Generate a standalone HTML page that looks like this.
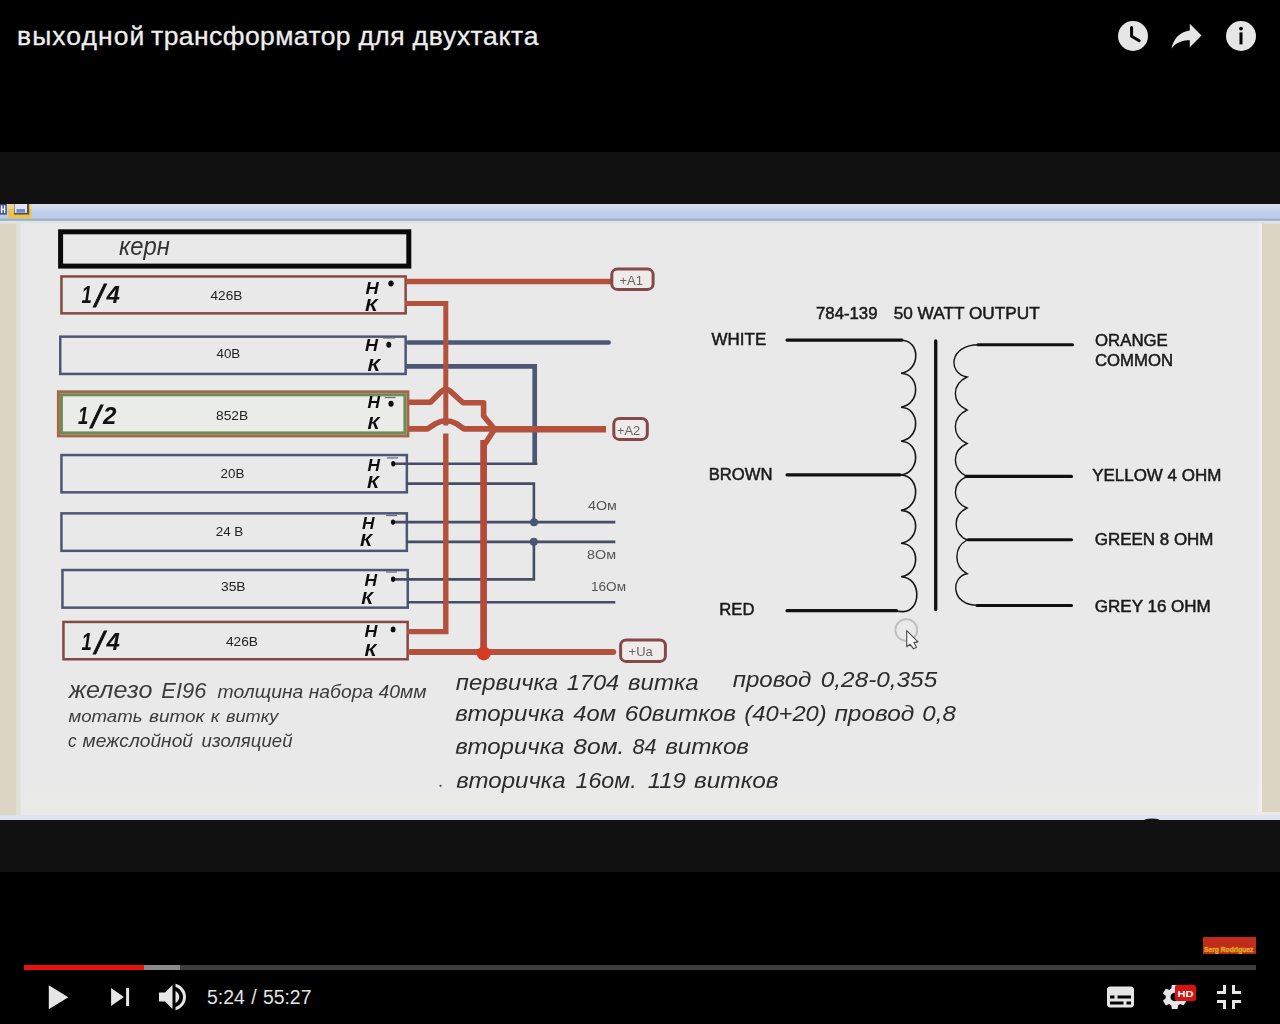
<!DOCTYPE html>
<html lang="ru">
<head>
<meta charset="utf-8">
<title>выходной трансформатор для двухтакта</title>
<style>
html,body{margin:0;padding:0;background:#000;}
body{width:1280px;height:1024px;position:relative;overflow:hidden;font-family:"Liberation Sans",sans-serif;}
.abs{position:absolute;}
#letter{left:0;top:152px;width:1280px;height:720px;background:#111112;}
#title{-webkit-text-stroke:0.3px #eee;left:17px;top:20px;font-size:26.5px;line-height:32px;color:#eee;white-space:nowrap;letter-spacing:0.48px;width:600px;height:32px;}
#title span{position:absolute;top:0;}
#time{left:207px;top:985px;font-size:19.4px;line-height:24px;color:#e4e4e4;white-space:nowrap;word-spacing:1px;}
#bar{left:24px;top:965px;width:1232px;height:5px;background:#3d3d3d;}
#bar .load{position:absolute;left:0;top:0;height:5px;width:156px;background:#8a8a8a;}
#bar .play{position:absolute;left:0;top:0;height:5px;width:120px;background:#e8120c;}
#brand{left:1203px;top:937px;width:53px;height:17px;background:#c22a1c;overflow:hidden;}
#brand span{position:absolute;left:1px;top:9px;font-size:6.6px;line-height:7px;font-weight:bold;color:#d9a520;-webkit-text-stroke:0.5px #d9a520;white-space:nowrap;letter-spacing:0.05px;}
svg{position:absolute;display:block;overflow:visible;}
</style>
</head>
<body>
<div id="letter" class="abs"></div>
<!--FRAME0-->
<div id="fw" class="abs" style="left:0;top:204px;width:1280px;height:616px;overflow:hidden">
<svg id="frame" style="left:-10px;top:-10px;filter:blur(0.65px)" width="1300" height="636" viewBox="-10 194 1300 636">
<defs>
<linearGradient id="gband" x1="0" y1="0" x2="0" y2="1"><stop offset="0" stop-color="#d9dce8"/><stop offset="0.2" stop-color="#d8dcec"/><stop offset="0.5" stop-color="#c2cfec"/><stop offset="0.9" stop-color="#baccea"/><stop offset="1" stop-color="#b0c0dc"/></linearGradient>
<linearGradient id="gbg" x1="0" y1="0" x2="0" y2="1"><stop offset="0" stop-color="#e9e9e9"/><stop offset="0.93" stop-color="#e9e9e9"/><stop offset="1" stop-color="#ecebe5"/></linearGradient>
</defs>
<rect x="-10" y="194" width="1300" height="636" fill="url(#gbg)"/>
<rect x="-10" y="221" width="26.5" height="594" fill="#dcd6c4"/>
<rect x="16.5" y="221" width="4" height="594" fill="#dfe0d8"/>
<rect x="1262" y="222" width="28" height="590" fill="#dbd5c3"/>
<rect x="1258" y="222" width="4" height="590" fill="#eeeeee"/>
<rect x="-10" y="194" width="1300" height="10" fill="#d9dce8"/>
<rect x="-10" y="204" width="1300" height="15" fill="url(#gband)"/>
<rect x="-10" y="218.9" width="1300" height="2" fill="#9eacbe"/>
<rect x="-10" y="220.9" width="1300" height="2.7" fill="#dce6e7"/>
<rect x="-10" y="815" width="1300" height="16" fill="#dde3f0"/>
<rect x="8" y="200" width="23.5" height="18.2" fill="#ecc24e"/>
<rect x="8" y="200" width="23.5" height="9" fill="#eed9a0" opacity="0.7"/>
<rect x="14" y="200" width="15.2" height="14.6" fill="#55554a"/>
<rect x="14.6" y="200" width="12.4" height="12.8" fill="#e6e2f4"/>
<rect x="16.5" y="209" width="8.5" height="3.6" fill="#6c8ec8"/>
<rect x="-10" y="200" width="16.8" height="14.6" fill="#3a4482"/>
<rect x="0.8" y="205.4" width="1.7" height="7.8" fill="#eef0fc"/><rect x="3.8" y="205.4" width="1.6" height="7.8" fill="#eef0fc"/><rect x="0.8" y="208.6" width="4" height="1.4" fill="#eef0fc"/>
<rect x="60.6" y="231.8" width="348.2" height="34.3" fill="none" stroke="#0a0a0a" stroke-width="5"/>
<rect x="61.45" y="276.45" width="344.20" height="36.90" fill="none" stroke="#864841" stroke-width="2.5"/>
<rect x="60.25" y="336.65" width="345.40" height="37.30" fill="none" stroke="#4e5675" stroke-width="2.5"/>
<rect x="58.40" y="391.80" width="349.50" height="44.10" fill="none" stroke="#a06a48" stroke-width="3"/>
<rect x="61.40" y="394.80" width="343.50" height="38.10" fill="#eaece8" stroke="#6f8a55" stroke-width="3"/>
<rect x="61.45" y="455.05" width="345.40" height="37.30" fill="none" stroke="#4e5675" stroke-width="2.5"/>
<rect x="61.45" y="513.35" width="345.40" height="37.50" fill="none" stroke="#4e5675" stroke-width="2.5"/>
<rect x="62.45" y="570.05" width="345.30" height="37.60" fill="none" stroke="#4e5675" stroke-width="2.5"/>
<rect x="63.45" y="621.95" width="344.20" height="37.30" fill="none" stroke="#864841" stroke-width="2.5"/>
<path d="M408.4 342.5 H608.6" fill="none" stroke="#4e5675" stroke-width="4.7" stroke-linecap="round"/>
<path d="M406 366.3 H534.7 V465" fill="none" stroke="#4e5675" stroke-width="4.7" stroke-linejoin="miter"/>
<path d="M393 463.8 H537.3" fill="none" stroke="#474d64" stroke-width="2.6" />
<path d="M406.5 483.6 H533.9 V522" fill="none" stroke="#474d64" stroke-width="2.6" />
<path d="M393 522.1 H615.3" fill="none" stroke="#474d64" stroke-width="2.6" />
<path d="M406.5 541.9 H615.3" fill="none" stroke="#474d64" stroke-width="2.6" />
<path d="M393 579.4 H533.9 V541.9" fill="none" stroke="#474d64" stroke-width="2.6" />
<path d="M407 602.2 H615.3" fill="none" stroke="#474d64" stroke-width="2.6" />
<circle cx="534" cy="522.2" r="4" fill="#4c5478"/><circle cx="533.8" cy="541.7" r="4" fill="#4c5478"/>
<path d="M406 281.4 H612" fill="none" stroke="#b3513c" stroke-width="5.5" />
<path d="M405 303.6 H445.8 V425.6" fill="none" stroke="#b3513c" stroke-width="5" stroke-linejoin="miter"/>
<path d="M445.8 433.5 V631.6 H407.5" fill="none" stroke="#b3513c" stroke-width="5.4" stroke-linejoin="miter"/>
<path d="M408.5 402.2 H430.5 L441.5 391.3 Q446 387.3 450.5 391.3 L463 402.8 H483.6 V416 L494.6 429.3 L483.6 446 V652" fill="none" stroke="#b3513c" stroke-width="5.6" stroke-linejoin="round"/>
<path d="M483.6 440 V652" fill="none" stroke="#b54a3a" stroke-width="6.6" />
<path d="M408.5 428.9 H427.5 L436 423.4 Q446 418.2 456 423.4 L464 428.9 H606" fill="none" stroke="#b3513c" stroke-width="5.6" stroke-linejoin="round"/>
<path d="M490 429.5 H606" fill="none" stroke="#b3513c" stroke-width="6.2" />
<path d="M410.6 652 H613.2" fill="none" stroke="#b3513c" stroke-width="6" stroke-linecap="round"/>
<circle cx="483.7" cy="653.4" r="7" fill="#d63c24"/>
<rect x="611.8" y="269.1" width="41.3" height="20.3" rx="5.5" fill="#efebe8" stroke="#85484a" stroke-width="3"/>
<text x="619.5" y="285.2" font-family="Liberation Sans, sans-serif" font-size="13.5" fill="#666" textLength="23.5" lengthAdjust="spacingAndGlyphs">+A1</text>
<rect x="613.8" y="418.4" width="33.5" height="21.0" rx="5.5" fill="#efebe8" stroke="#85484a" stroke-width="3"/>
<text x="617" y="434.8" font-family="Liberation Sans, sans-serif" font-size="13.5" fill="#666" textLength="23.3" lengthAdjust="spacingAndGlyphs">+A2</text>
<rect x="620.6" y="640.0" width="44.8" height="21.4" rx="5.5" fill="#efebe8" stroke="#85484a" stroke-width="3"/>
<text x="628.6" y="656.2" font-family="Liberation Sans, sans-serif" font-size="13.5" fill="#666" textLength="24.2" lengthAdjust="spacingAndGlyphs">+Ua</text>
<text x="588" y="509.8" font-family="Liberation Sans, sans-serif" font-size="13" fill="#555" textLength="28.9" lengthAdjust="spacingAndGlyphs">4Ом</text>
<text x="587" y="559.1" font-family="Liberation Sans, sans-serif" font-size="13" fill="#555" textLength="29.0" lengthAdjust="spacingAndGlyphs">8Ом</text>
<text x="591" y="591.1" font-family="Liberation Sans, sans-serif" font-size="13" fill="#555" textLength="35.0" lengthAdjust="spacingAndGlyphs">16Ом</text>
<text x="118.9" y="254.8" font-family="Liberation Sans, sans-serif" font-size="25" font-style="italic" fill="#333" textLength="50.9" lengthAdjust="spacingAndGlyphs">керн</text>
<text x="81.6" y="303.2" font-family="Liberation Sans, sans-serif" font-size="23" font-style="italic" font-weight="bold" fill="#111" textLength="10.3" lengthAdjust="spacingAndGlyphs">1</text>
<text x="95.0" y="307.1" font-family="Liberation Sans, sans-serif" font-size="32" font-style="italic" fill="#111" stroke="#111" stroke-width="0.9">/</text>
<text x="106.6" y="303.2" font-family="Liberation Sans, sans-serif" font-size="23" font-style="italic" font-weight="bold" fill="#111" textLength="13.4" lengthAdjust="spacingAndGlyphs">4</text>
<text x="78" y="423.8" font-family="Liberation Sans, sans-serif" font-size="23" font-style="italic" font-weight="bold" fill="#111" textLength="10.3" lengthAdjust="spacingAndGlyphs">1</text>
<text x="91.4" y="427.7" font-family="Liberation Sans, sans-serif" font-size="32" font-style="italic" fill="#111" stroke="#111" stroke-width="0.9">/</text>
<text x="103" y="423.8" font-family="Liberation Sans, sans-serif" font-size="23" font-style="italic" font-weight="bold" fill="#111" textLength="13.4" lengthAdjust="spacingAndGlyphs">2</text>
<text x="81.6" y="649.8" font-family="Liberation Sans, sans-serif" font-size="23" font-style="italic" font-weight="bold" fill="#111" textLength="10.3" lengthAdjust="spacingAndGlyphs">1</text>
<text x="95.0" y="653.7" font-family="Liberation Sans, sans-serif" font-size="32" font-style="italic" fill="#111" stroke="#111" stroke-width="0.9">/</text>
<text x="106.6" y="649.8" font-family="Liberation Sans, sans-serif" font-size="23" font-style="italic" font-weight="bold" fill="#111" textLength="13.4" lengthAdjust="spacingAndGlyphs">4</text>
<text x="210.5" y="300.1" font-family="Liberation Sans, sans-serif" font-size="13" fill="#222" textLength="31.8" lengthAdjust="spacingAndGlyphs">426В</text>
<text x="216.5" y="357.5" font-family="Liberation Sans, sans-serif" font-size="13" fill="#222" textLength="23.8" lengthAdjust="spacingAndGlyphs">40В</text>
<text x="216" y="419.8" font-family="Liberation Sans, sans-serif" font-size="13" fill="#222" textLength="32.2" lengthAdjust="spacingAndGlyphs">852В</text>
<text x="220.6" y="478.1" font-family="Liberation Sans, sans-serif" font-size="13" fill="#222" textLength="23.8" lengthAdjust="spacingAndGlyphs">20В</text>
<text x="215.7" y="536" font-family="Liberation Sans, sans-serif" font-size="13" fill="#222" textLength="27.6" lengthAdjust="spacingAndGlyphs">24 В</text>
<text x="221" y="590.5" font-family="Liberation Sans, sans-serif" font-size="13" fill="#222" textLength="24.6" lengthAdjust="spacingAndGlyphs">35В</text>
<text x="225.9" y="645.9" font-family="Liberation Sans, sans-serif" font-size="13" fill="#222" textLength="32.1" lengthAdjust="spacingAndGlyphs">426В</text>
<text x="365.6" y="293.8" font-family="Liberation Sans, sans-serif" font-size="16.5" font-style="italic" font-weight="bold" fill="#0c0c0c" textLength="13.2" lengthAdjust="spacingAndGlyphs">Н</text>
<text x="365" y="310.6" font-family="Liberation Sans, sans-serif" font-size="16.5" font-style="italic" font-weight="bold" fill="#0c0c0c" textLength="12.5" lengthAdjust="spacingAndGlyphs">К</text>
<text x="365" y="351.3" font-family="Liberation Sans, sans-serif" font-size="16.5" font-style="italic" font-weight="bold" fill="#0c0c0c" textLength="13.0" lengthAdjust="spacingAndGlyphs">Н</text>
<text x="367.5" y="371" font-family="Liberation Sans, sans-serif" font-size="16.5" font-style="italic" font-weight="bold" fill="#0c0c0c" textLength="12.5" lengthAdjust="spacingAndGlyphs">К</text>
<text x="367.5" y="407.5" font-family="Liberation Sans, sans-serif" font-size="16.5" font-style="italic" font-weight="bold" fill="#0c0c0c" textLength="12.5" lengthAdjust="spacingAndGlyphs">Н</text>
<text x="367.5" y="428.5" font-family="Liberation Sans, sans-serif" font-size="16.5" font-style="italic" font-weight="bold" fill="#0c0c0c" textLength="11.9" lengthAdjust="spacingAndGlyphs">К</text>
<text x="367.5" y="470.6" font-family="Liberation Sans, sans-serif" font-size="16.5" font-style="italic" font-weight="bold" fill="#0c0c0c" textLength="12.5" lengthAdjust="spacingAndGlyphs">Н</text>
<text x="366.9" y="488.1" font-family="Liberation Sans, sans-serif" font-size="16.5" font-style="italic" font-weight="bold" fill="#0c0c0c" textLength="11.9" lengthAdjust="spacingAndGlyphs">К</text>
<text x="361.9" y="529" font-family="Liberation Sans, sans-serif" font-size="16.5" font-style="italic" font-weight="bold" fill="#0c0c0c" textLength="12.5" lengthAdjust="spacingAndGlyphs">Н</text>
<text x="360" y="546.3" font-family="Liberation Sans, sans-serif" font-size="16.5" font-style="italic" font-weight="bold" fill="#0c0c0c" textLength="12.0" lengthAdjust="spacingAndGlyphs">К</text>
<text x="364.4" y="586.3" font-family="Liberation Sans, sans-serif" font-size="16.5" font-style="italic" font-weight="bold" fill="#0c0c0c" textLength="12.6" lengthAdjust="spacingAndGlyphs">Н</text>
<text x="361.3" y="604.4" font-family="Liberation Sans, sans-serif" font-size="16.5" font-style="italic" font-weight="bold" fill="#0c0c0c" textLength="11.7" lengthAdjust="spacingAndGlyphs">К</text>
<text x="364.4" y="636.9" font-family="Liberation Sans, sans-serif" font-size="16.5" font-style="italic" font-weight="bold" fill="#0c0c0c" textLength="12.9" lengthAdjust="spacingAndGlyphs">Н</text>
<text x="364.4" y="655.6" font-family="Liberation Sans, sans-serif" font-size="16.5" font-style="italic" font-weight="bold" fill="#0c0c0c" textLength="11.9" lengthAdjust="spacingAndGlyphs">К</text>
<ellipse cx="391" cy="283.5" rx="2.7" ry="3" fill="#0a0a0a"/>
<ellipse cx="388.8" cy="344.8" rx="2.5" ry="3" fill="#0a0a0a"/>
<ellipse cx="391" cy="403.8" rx="2.6" ry="3" fill="#0a0a0a"/>
<ellipse cx="393.2" cy="463.8" rx="2.1" ry="2.7" fill="#0a0a0a"/>
<ellipse cx="393" cy="522.2" rx="2.1" ry="2.7" fill="#0a0a0a"/>
<ellipse cx="393.1" cy="579.3" rx="2.1" ry="2.7" fill="#0a0a0a"/>
<ellipse cx="393.1" cy="629.4" rx="2.4" ry="2.9" fill="#0a0a0a"/>
<path d="M383 338 H395" stroke="#666a78" stroke-width="1.2"/>
<path d="M385 397.5 H395.6" stroke="#666a78" stroke-width="1.2"/>
<path d="M386.9 457.9 H398" stroke="#666a78" stroke-width="1.2"/>
<path d="M386 515.5 H397" stroke="#666a78" stroke-width="1.2"/>
<path d="M386 572 H397" stroke="#666a78" stroke-width="1.2"/>
<text x="68.8" y="698.2" font-family="Liberation Sans, sans-serif" font-size="23" font-style="italic" fill="#3c3c3c" textLength="83.7" lengthAdjust="spacingAndGlyphs">железо</text>
<text x="161.3" y="698.2" font-family="Liberation Sans, sans-serif" font-size="22.7" font-style="italic" fill="#3c3c3c" textLength="45.0" lengthAdjust="spacingAndGlyphs">EI96</text>
<text x="217.6" y="698.2" font-family="Liberation Sans, sans-serif" font-size="17.8" font-style="italic" fill="#3c3c3c" textLength="209.0" lengthAdjust="spacingAndGlyphs">толщина набора 40мм</text>
<text x="68.4" y="721.7" font-family="Liberation Sans, sans-serif" font-size="17" font-style="italic" fill="#3c3c3c" textLength="74.1" lengthAdjust="spacingAndGlyphs">мотать</text>
<text x="149" y="721.7" font-family="Liberation Sans, sans-serif" font-size="17" font-style="italic" fill="#3c3c3c" textLength="55.4" lengthAdjust="spacingAndGlyphs">виток</text>
<text x="210.8" y="721.7" font-family="Liberation Sans, sans-serif" font-size="17" font-style="italic" fill="#3c3c3c" textLength="8.8" lengthAdjust="spacingAndGlyphs">к</text>
<text x="226" y="721.7" font-family="Liberation Sans, sans-serif" font-size="17" font-style="italic" fill="#3c3c3c" textLength="52.4" lengthAdjust="spacingAndGlyphs">витку</text>
<text x="68" y="747" font-family="Liberation Sans, sans-serif" font-size="18" font-style="italic" fill="#3c3c3c" textLength="8.6" lengthAdjust="spacingAndGlyphs">с</text>
<text x="82.5" y="747" font-family="Liberation Sans, sans-serif" font-size="18" font-style="italic" fill="#3c3c3c" textLength="110.5" lengthAdjust="spacingAndGlyphs">межслойной</text>
<text x="201.6" y="747" font-family="Liberation Sans, sans-serif" font-size="18" font-style="italic" fill="#3c3c3c" textLength="90.9" lengthAdjust="spacingAndGlyphs">изоляцией</text>
<text x="455.8" y="689.6" font-family="Liberation Sans, sans-serif" font-size="22.5" font-style="italic" fill="#2c2c2c" textLength="102.2" lengthAdjust="spacingAndGlyphs">первичка</text>
<text x="566.7" y="689.6" font-family="Liberation Sans, sans-serif" font-size="22.5" font-style="italic" fill="#2c2c2c" textLength="52.5" lengthAdjust="spacingAndGlyphs">1704</text>
<text x="628" y="689.6" font-family="Liberation Sans, sans-serif" font-size="22.5" font-style="italic" fill="#2c2c2c" textLength="70.6" lengthAdjust="spacingAndGlyphs">витка</text>
<text x="732.7" y="687.4" font-family="Liberation Sans, sans-serif" font-size="22.5" font-style="italic" fill="#2c2c2c" textLength="78.7" lengthAdjust="spacingAndGlyphs">провод</text>
<text x="820.8" y="687.4" font-family="Liberation Sans, sans-serif" font-size="22.5" font-style="italic" fill="#2c2c2c" textLength="116.4" lengthAdjust="spacingAndGlyphs">0,28-0,355</text>
<text x="455.2" y="721" font-family="Liberation Sans, sans-serif" font-size="22.5" font-style="italic" fill="#2c2c2c" textLength="109.3" lengthAdjust="spacingAndGlyphs">вторичка</text>
<text x="573.3" y="721" font-family="Liberation Sans, sans-serif" font-size="22.5" font-style="italic" fill="#2c2c2c" textLength="42.7" lengthAdjust="spacingAndGlyphs">4ом</text>
<text x="624.7" y="721" font-family="Liberation Sans, sans-serif" font-size="22.5" font-style="italic" fill="#2c2c2c" textLength="111.3" lengthAdjust="spacingAndGlyphs">60витков</text>
<text x="744.3" y="721" font-family="Liberation Sans, sans-serif" font-size="22.5" font-style="italic" fill="#2c2c2c" textLength="82.4" lengthAdjust="spacingAndGlyphs">(40+20)</text>
<text x="834.4" y="721" font-family="Liberation Sans, sans-serif" font-size="22.5" font-style="italic" fill="#2c2c2c" textLength="79.8" lengthAdjust="spacingAndGlyphs">провод</text>
<text x="922.3" y="721" font-family="Liberation Sans, sans-serif" font-size="22.5" font-style="italic" fill="#2c2c2c" textLength="33.5" lengthAdjust="spacingAndGlyphs">0,8</text>
<text x="455.2" y="754.4" font-family="Liberation Sans, sans-serif" font-size="22.5" font-style="italic" fill="#2c2c2c" textLength="109.3" lengthAdjust="spacingAndGlyphs">вторичка</text>
<text x="573.3" y="754.4" font-family="Liberation Sans, sans-serif" font-size="22.5" font-style="italic" fill="#2c2c2c" textLength="51.0" lengthAdjust="spacingAndGlyphs">8ом.</text>
<text x="632.4" y="754.4" font-family="Liberation Sans, sans-serif" font-size="22.5" font-style="italic" fill="#2c2c2c" textLength="24.0" lengthAdjust="spacingAndGlyphs">84</text>
<text x="665.2" y="754.2" font-family="Liberation Sans, sans-serif" font-size="22.5" font-style="italic" fill="#2c2c2c" textLength="83.8" lengthAdjust="spacingAndGlyphs">витков</text>
<text x="456.3" y="788.3" font-family="Liberation Sans, sans-serif" font-size="22.5" font-style="italic" fill="#2c2c2c" textLength="109.3" lengthAdjust="spacingAndGlyphs">вторичка</text>
<text x="575.5" y="788.3" font-family="Liberation Sans, sans-serif" font-size="22.5" font-style="italic" fill="#2c2c2c" textLength="61.2" lengthAdjust="spacingAndGlyphs">16ом.</text>
<text x="647.7" y="788.3" font-family="Liberation Sans, sans-serif" font-size="22.5" font-style="italic" fill="#2c2c2c" textLength="38.3" lengthAdjust="spacingAndGlyphs">119</text>
<text x="694" y="788.1" font-family="Liberation Sans, sans-serif" font-size="22.5" font-style="italic" fill="#2c2c2c" textLength="84.6" lengthAdjust="spacingAndGlyphs">витков</text>
<circle cx="440.5" cy="785.8" r="1.1" fill="#444"/>
<text x="816" y="318.7" font-family="Liberation Sans, sans-serif" font-size="16.5" fill="#1a1a1a" stroke="#1a1a1a" stroke-width="0.5" textLength="61.5" lengthAdjust="spacingAndGlyphs">784-139</text>
<text x="893.7" y="318.7" font-family="Liberation Sans, sans-serif" font-size="16.5" fill="#1a1a1a" stroke="#1a1a1a" stroke-width="0.5" textLength="146.0" lengthAdjust="spacingAndGlyphs">50 WATT OUTPUT</text>
<text x="711.6" y="345.1" font-family="Liberation Sans, sans-serif" font-size="16.5" fill="#1a1a1a" stroke="#1a1a1a" stroke-width="0.5" textLength="54.6" lengthAdjust="spacingAndGlyphs">WHITE</text>
<text x="708.7" y="480.4" font-family="Liberation Sans, sans-serif" font-size="16.5" fill="#1a1a1a" stroke="#1a1a1a" stroke-width="0.5" textLength="63.8" lengthAdjust="spacingAndGlyphs">BROWN</text>
<text x="719.3" y="615.2" font-family="Liberation Sans, sans-serif" font-size="16.5" fill="#1a1a1a" stroke="#1a1a1a" stroke-width="0.5" textLength="35.1" lengthAdjust="spacingAndGlyphs">RED</text>
<text x="1095" y="346.3" font-family="Liberation Sans, sans-serif" font-size="16.5" fill="#1a1a1a" stroke="#1a1a1a" stroke-width="0.5" textLength="72.8" lengthAdjust="spacingAndGlyphs">ORANGE</text>
<text x="1095" y="366.1" font-family="Liberation Sans, sans-serif" font-size="16.5" fill="#1a1a1a" stroke="#1a1a1a" stroke-width="0.5" textLength="78.0" lengthAdjust="spacingAndGlyphs">COMMON</text>
<text x="1092.2" y="480.6" font-family="Liberation Sans, sans-serif" font-size="16.5" fill="#1a1a1a" stroke="#1a1a1a" stroke-width="0.5" textLength="129.1" lengthAdjust="spacingAndGlyphs">YELLOW 4 OHM</text>
<text x="1094.8" y="545" font-family="Liberation Sans, sans-serif" font-size="16.5" fill="#1a1a1a" stroke="#1a1a1a" stroke-width="0.5" textLength="118.7" lengthAdjust="spacingAndGlyphs">GREEN 8 OHM</text>
<text x="1094.8" y="612" font-family="Liberation Sans, sans-serif" font-size="16.5" fill="#1a1a1a" stroke="#1a1a1a" stroke-width="0.5" textLength="116.0" lengthAdjust="spacingAndGlyphs">GREY 16 OHM</text>
<path d="M787 340.1 H902" stroke="#111" stroke-width="3.2" stroke-linecap="round"/>
<path d="M787 474.8 H900" stroke="#111" stroke-width="3.2" stroke-linecap="round"/>
<path d="M787 610.7 H896.5" stroke="#111" stroke-width="3.2" stroke-linecap="round"/>
<path d="M978 344.8 H1072.5" stroke="#111" stroke-width="3.1" stroke-linecap="round"/>
<path d="M966 476.4 H1071.5" stroke="#111" stroke-width="3.1" stroke-linecap="round"/>
<path d="M968 539.8 H1071.5" stroke="#111" stroke-width="3.1" stroke-linecap="round"/>
<path d="M977 605.5 H1071.5" stroke="#111" stroke-width="3.1" stroke-linecap="round"/>
<path d="M935.7 341 V609.6" stroke="#111" stroke-width="3.3" stroke-linecap="round"/>
<path d="M902 340.2 C920.5 340.9 920.5 370.6 901 373.2 C920.5 373.9 920.5 404.5 901 407.2 C920.5 407.9 920.5 438.5 901 441.2 C920.5 441.9 920.5 472.3 901 475 C920.5 475.7 920.5 507.6 901 510.4 C920.5 511.1 920.5 540.6 901 543.2 C920.5 543.9 920.5 574.0 901 576.7 C922.5 577.4 921 611.8 903 611.6 L896 611.2" fill="none" stroke="#151515" stroke-width="1.6" stroke-linejoin="miter"/>
<path d="M979 344.8 C948 344.8 948 373.8 967 377 C951.5 384.3 951.5 402.7 967 410 C951.5 417.4 951.5 436.1 967 443.5 C951.5 450.7 951.5 469.1 967 476.3 C951.5 483.3 951.5 501.0 967 508 C952.5 515.0 952.5 533.0 967 540 C953.5 547.4 953.5 566.3 967 573.7 C950.5 576.9 950.5 605.4 978 605.4" fill="none" stroke="#151515" stroke-width="1.4" stroke-linejoin="miter"/>
<ellipse cx="1152" cy="820.6" rx="8" ry="2.2" fill="#17171c"/>
<circle cx="906.3" cy="630" r="10.9" fill="none" stroke="#bdbdbd" stroke-width="1.8"/>
<path d="M906.7 630.7 L906.7 646.8 L910.1 644.3 L913.6 648.9 L916.5 647.2 L913.9 642.6 L918 641.9 Z" fill="#f6f6f6" stroke="#4a4a4a" stroke-width="1.1" stroke-linejoin="round"/>
</svg>
</div>
<!--FRAME1-->
<div id="title" class="abs"><span style="left:0;letter-spacing:1.05px">выходной</span> <span style="left:134.1px;letter-spacing:0.42px">трансформатор</span> <span style="left:341.4px">для</span> <span style="left:395.6px;letter-spacing:0.7px">двухтакта</span></div>
<svg style="left:1112px;top:14px" width="150" height="44" viewBox="1112 14 150 44">
<circle cx="1133" cy="36" r="15" fill="#e6e6e6"/>
<path d="M1131.6 27.4 V36.2 L1139.2 40.8" fill="none" stroke="#000" stroke-width="3" stroke-linecap="round" stroke-linejoin="round"/>
<g transform="translate(1159.5,9.2) scale(1.5)"><path fill="#e6e6e6" d="m 20.20,14.19 0,-4.45 7.79,7.79 -7.79,7.79 0,-4.56 C 16.27,20.69 12.10,21.81 9.34,24.76 8.80,25.13 7.60,27.29 8.12,25.65 9.08,21.32 11.80,17.18 15.98,15.38 c 1.33,-0.60 2.76,-0.98 4.21,-1.19 z"/></g>
<circle cx="1241" cy="36" r="15" fill="#e6e6e6"/>
<circle cx="1241" cy="28.6" r="1.9" fill="#000"/>
<rect x="1239.5" y="32.4" width="3" height="12" fill="#000"/>
</svg>
<div id="brand" class="abs"><span>Serg Rodriguez</span></div>
<div id="bar" class="abs"><div class="load"></div><div class="play"></div></div>
<svg style="left:0;top:970px" width="1280" height="54" viewBox="0 970 1280 54">
<g fill="#e6e6e6">
<g transform="translate(30.8,970.2) scale(1.5)"><path d="M 12,26 18.5,22 18.5,14 12,10 z M 18.5,22 25,18 25,18 18.5,14 z"/></g>
<g transform="translate(93.1,970) scale(1.5)"><path d="M 12,24 20.5,18 12,12 V 24 z M 22,12 v 12 h 2 V 12 h -2 z"/></g>
<g transform="translate(147,970) scale(1.5)"><path d="M8,21 L12,21 L17,26 L17,10 L12,15 L8,15 L8,21 Z M19,14 L19,22 C20.48,21.32 21.5,19.77 21.5,18 C21.5,16.26 20.48,14.74 19,14 Z M19,11.29 C21.89,12.15 24,14.83 24,18 C24,21.17 21.89,23.85 19,24.71 L19,26.77 C23.01,25.86 26,22.28 26,18 C26,13.72 23.01,10.14 19,9.23 L19,11.29 Z"/></g>
<g transform="translate(1093.5,970) scale(1.5)"><path fill-rule="evenodd" d="M11,11 C9.9,11 9,11.9 9,13 L9,23 C9,24.1 9.9,25 11,25 L25,25 C26.1,25 27,24.1 27,23 L27,13 C27,11.9 26.1,11 25,11 L11,11 Z M11,17 L14,17 L14,19 L11,19 L11,17 L11,17 Z M20,23 L11,23 L11,21 L20,21 L20,23 L20,23 Z M25,23 L22,23 L22,21 L25,21 L25,23 L25,23 Z M25,19 L16,19 L16,17 L25,17 L25,19 L25,19 Z"/></g>
<g transform="translate(1147.7,970) scale(1.5)"><path fill-rule="evenodd" d="m 23.94,18.78 c .03,-0.25 .05,-0.51 .05,-0.78 0,-0.27 -0.02,-0.52 -0.05,-0.78 l 1.68,-1.32 c .15,-0.12 .19,-0.33 .09,-0.51 l -1.6,-2.76 c -0.09,-0.17 -0.31,-0.24 -0.48,-0.17 l -1.99,.8 c -0.41,-0.32 -0.86,-0.58 -1.35,-0.78 l -0.30,-2.12 c -0.02,-0.19 -0.19,-0.33 -0.39,-0.33 l -3.2,0 c -0.2,0 -0.36,.14 -0.39,.33 l -0.30,2.12 c -0.48,.2 -0.93,.47 -1.35,.78 l -1.99,-0.8 c -0.18,-0.07 -0.39,0 -0.48,.17 l -1.6,2.76 c -0.10,.17 -0.05,.39 .09,.51 l 1.68,1.32 c -0.03,.25 -0.05,.52 -0.05,.78 0,.26 .02,.52 .05,.78 l -1.68,1.32 c -0.15,.12 -0.19,.33 -0.09,.51 l 1.6,2.76 c .09,.17 .31,.24 .48,.17 l 1.99,-0.8 c .41,.32 .86,.58 1.35,.78 l .30,2.12 c .02,.19 .19,.33 .39,.33 l 3.2,0 c .2,0 .36,-0.14 .39,-0.33 l .30,-2.12 c .48,-0.2 .93,-0.47 1.35,-0.78 l 1.99,.8 c .18,.07 .39,0 .48,-0.17 l 1.6,-2.76 c .09,-0.17 .05,-0.39 -0.09,-0.51 l -1.68,-1.32 0,0 z m -5.94,2.01 c -1.54,0 -2.8,-1.25 -2.8,-2.8 0,-1.54 1.25,-2.8 2.8,-2.8 1.54,0 2.8,1.25 2.8,2.8 0,1.54 -1.25,2.8 -2.8,2.8 l 0,0 z"/></g>
<g transform="translate(1202,970) scale(1.5)"><path d="m 14,14 -4,0 0,2 6,0 0,-6 -2,0 0,4 0,0 z"/><path d="m 22,14 0,-4 -2,0 0,6 6,0 0,-2 -4,0 0,0 z"/><path d="m 20,26 2,0 0,-4 4,0 0,-2 -6,0 0,6 0,0 z"/><path d="m 10,22 4,0 0,4 2,0 0,-6 -6,0 0,2 0,0 z"/></g>
</g>
<rect x="1175" y="985" width="21" height="16" rx="2" fill="#d8120f"/>
<text x="1185.5" y="997" font-family="Liberation Sans, sans-serif" font-weight="bold" font-size="9.5" fill="#fff" text-anchor="middle" textLength="16" lengthAdjust="spacingAndGlyphs">HD</text>
</svg>
<div id="time" class="abs">5:24 / 55:27</div>
</body>
</html>
